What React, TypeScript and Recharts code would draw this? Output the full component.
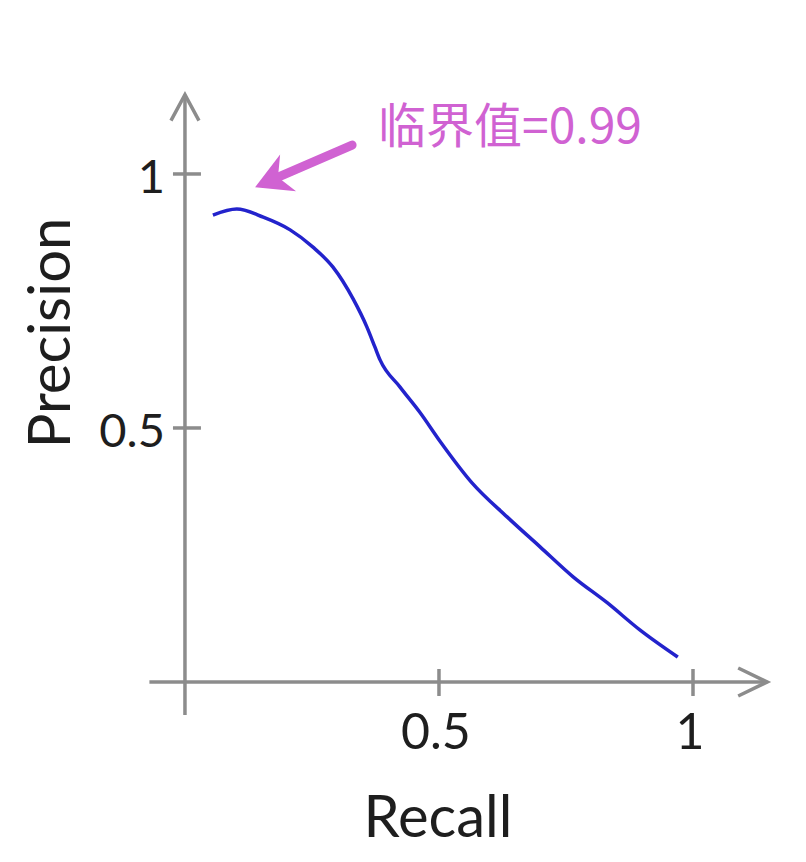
import React from 'react';
import { LineChart, Line, XAxis, YAxis, ReferenceLine, ReferenceDot } from 'recharts';

// values
const recall = [0.055, 0.102, 0.154, 0.207, 0.252, 0.291, 0.331, 0.358, 0.374, 0.384, 0.423, 0.463, 0.502, 0.565, 0.634, 0.699, 0.764, 0.831, 0.896, 0.97];
const precision = [0.919, 0.931, 0.915, 0.89, 0.856, 0.817, 0.754, 0.699, 0.659, 0.634, 0.581, 0.53, 0.474, 0.392, 0.325, 0.266, 0.207, 0.156, 0.102, 0.049];

const xTicks = [0.5, 1];
const yTicks = [0.5, 1];
const xTitle = 'Recall';
const yTitle = 'Precision';

const note = '临界值=0.99';
const noteFrom = { x: 0.329, y: 1.057 };
const noteTo = { x: 0.138, y: 0.974 };

const data = recall.map((r, i) => ({ recall: r, precision: precision[i] }));

const AXIS = '#8c8c8c';
const INK = '#1e1e1e';
const PINK = '#d062d2';
const BLUE = '#2323cc';
const FONT = 'Lato, "Open Sans", sans-serif';

const AxisArrow = (props: any) => {
  const { x1, y1, x2, y2 } = props;
  if (Math.abs(y1 - y2) < 1) {
    const a = Math.min(x1, x2);
    const tip = Math.max(x1, x2) - 2;
    return (
      <g>
        <line x1={a} y1={y1} x2={tip} y2={y1} stroke={AXIS} strokeWidth={3.5} />
        <path d={`M${tip - 29},${y1 - 14} L${tip},${y1} L${tip - 29},${y1 + 14}`} fill="none" stroke={AXIS} strokeWidth={3.5} />
      </g>
    );
  }
  const b = Math.max(y1, y2);
  const tip = Math.min(y1, y2) + 2;
  return (
    <g>
      <line x1={x1} y1={b} x2={x1} y2={tip} stroke={AXIS} strokeWidth={3.5} />
      <path d={`M${x1 - 14},${tip + 26} L${x1},${tip} L${x1 + 14},${tip + 26}`} fill="none" stroke={AXIS} strokeWidth={3.5} />
    </g>
  );
};

const NoteArrow = (props: any) => {
  const { x1, y1, x2, y2 } = props;
  const tip = x1 < x2 ? { x: x1, y: y1 } : { x: x2, y: y2 };
  const tail = x1 < x2 ? { x: x2, y: y2 } : { x: x1, y: y1 };
  const len = Math.hypot(tip.x - tail.x, tip.y - tail.y);
  const ux = (tip.x - tail.x) / len;
  const uy = (tip.y - tail.y) / len;
  const nx = -uy;
  const ny = ux;
  const p = (d: number, w: number) => `${tip.x - ux * d + nx * w},${tip.y - uy * d + ny * w}`;
  return (
    <g>
      <line x1={tail.x} y1={tail.y} x2={tip.x - ux * 22} y2={tip.y - uy * 22} stroke={PINK} strokeWidth={9} strokeLinecap="round" />
      <polygon points={`${tip.x},${tip.y} ${p(36, 20)} ${p(25, 0)} ${p(36, -20)}`} fill={PINK} />
      <text x={tail.x + 26} y={tail.y - 2} fill={PINK} fontSize={48} fontFamily='"Noto Sans CJK SC", sans-serif'>
        {note}
      </text>
    </g>
  );
};

const XTick = (props: any) => {
  const { cx, cy, value } = props;
  return (
    <g>
      <line x1={cx} y1={cy - 13} x2={cx} y2={cy + 14} stroke={AXIS} strokeWidth={3.5} />
      <text x={cx - 3} y={cy + 67} textAnchor="middle" fontSize={50} fill={INK} fontFamily={FONT}>
        {String(value)}
      </text>
    </g>
  );
};

const YTick = (props: any) => {
  const { cx, cy, value } = props;
  return (
    <g>
      <line x1={cx - 12} y1={cy} x2={cx + 16} y2={cy} stroke={AXIS} strokeWidth={3.5} />
      <text x={cx - 20} y={cy + 19} textAnchor="end" fontSize={47} fill={INK} fontFamily={FONT}>
        {String(value)}
      </text>
    </g>
  );
};

const XTitle = (props: any) => (
  <text x={props.cx - 1} y={props.cy + 155} textAnchor="middle" fontSize={58} fill={INK} fontFamily={FONT}>
    {xTitle}
  </text>
);

const YTitle = (props: any) => {
  const x = props.cx - 115;
  const y = props.cy - 95;
  return (
    <text x={x} y={y} transform={`rotate(-90, ${x}, ${y})`} textAnchor="middle" fontSize={58} fill={INK} fontFamily={FONT}>
      {yTitle}
    </text>
  );
};

export default function App() {
  return (
    <div style={{ width: 790, height: 846, background: '#fff' }}>
      <LineChart
        width={790}
        height={846}
        data={data}
        margin={{ top: 84.7, right: 28.8, bottom: 139, left: 141.4 }}
      >
        <XAxis dataKey="recall" type="number" domain={[-0.07, 1.15]} allowDataOverflow hide />
        <YAxis type="number" domain={[-0.065, 1.16]} allowDataOverflow hide />
        <ReferenceLine y={0} shape={AxisArrow} />
        <ReferenceLine x={0} shape={AxisArrow} />
        {xTicks.map((t) => (
          <ReferenceDot key={`x${t}`} x={t} y={0} r={0} shape={(p: any) => <XTick {...p} value={t} />} />
        ))}
        {yTicks.map((t) => (
          <ReferenceDot key={`y${t}`} x={0} y={t} r={0} shape={(p: any) => <YTick {...p} value={t} />} />
        ))}
        <ReferenceDot x={0.5} y={0} r={0} shape={XTitle} />
        <ReferenceDot x={0} y={0.5} r={0} shape={YTitle} />
        <Line
          type="monotone"
          dataKey="precision"
          stroke={BLUE}
          strokeWidth={3.5}
          dot={false}
          isAnimationActive={false}
        />
        <ReferenceLine segment={[noteFrom, noteTo]} shape={NoteArrow} />
      </LineChart>
    </div>
  );
}
